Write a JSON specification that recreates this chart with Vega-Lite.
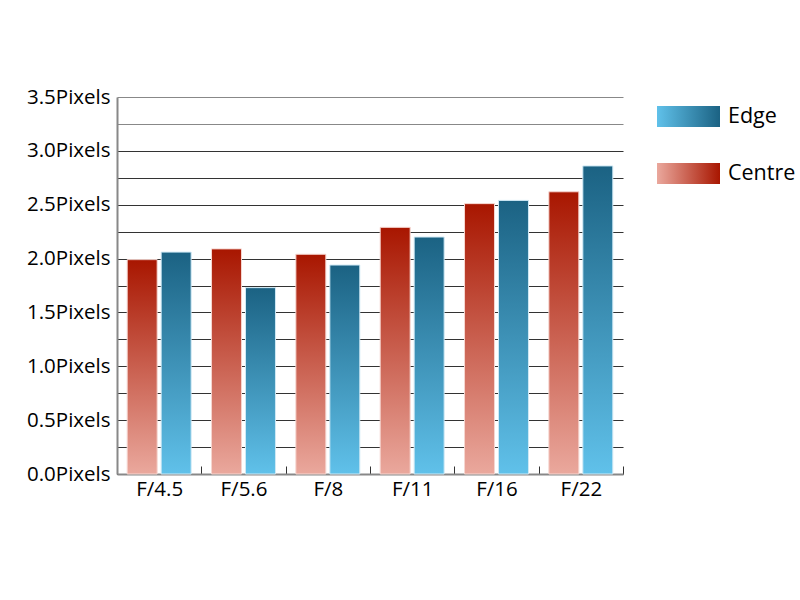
{
  "$schema": "https://vega.github.io/schema/vega-lite/v6.json",
  "autosize": "none",
  "width": 506,
  "height": 377,
  "padding": {"left": 117, "top": 97, "right": 177, "bottom": 126},
  "background": "white",
  "config": {"font": "Open Sans", "view": {"stroke": null}},
  "data": {
    "values": [
      {"aperture": "F/4.5", "series": "Centre", "value": 1.99},
      {"aperture": "F/4.5", "series": "Edge", "value": 2.06},
      {"aperture": "F/5.6", "series": "Centre", "value": 2.09},
      {"aperture": "F/5.6", "series": "Edge", "value": 1.73},
      {"aperture": "F/8", "series": "Centre", "value": 2.04},
      {"aperture": "F/8", "series": "Edge", "value": 1.94},
      {"aperture": "F/11", "series": "Centre", "value": 2.29},
      {"aperture": "F/11", "series": "Edge", "value": 2.2},
      {"aperture": "F/16", "series": "Centre", "value": 2.51},
      {"aperture": "F/16", "series": "Edge", "value": 2.54},
      {"aperture": "F/22", "series": "Centre", "value": 2.62},
      {"aperture": "F/22", "series": "Edge", "value": 2.86}
    ]
  },
  "mark": {"type": "bar", "strokeWidth": 1},
  "encoding": {
    "x": {
      "field": "aperture",
      "type": "nominal",
      "sort": ["F/4.5", "F/5.6", "F/8", "F/11", "F/16", "F/22"],
      "scale": {"paddingInner": 0, "paddingOuter": 0},
      "axis": {
        "title": null,
        "labelAngle": 0,
        "tickBand": "extent",
        "tickSize": -8,
        "tickColor": "#333",
        "tickWidth": 1,
        "labelPadding": 13,
        "labelFontSize": 20.5,
        "labelColor": "#000",
        "domainColor": "#888",
        "domainWidth": 2,
        "grid": false
      }
    },
    "xOffset": {
      "field": "series",
      "type": "nominal",
      "sort": ["Centre", "Edge"],
      "scale": {"paddingInner": 0.118, "paddingOuter": 0.3}
    },
    "y": {
      "field": "value",
      "type": "quantitative",
      "scale": {"domain": [0, 3.5], "nice": false},
      "axis": {
        "title": null,
        "values": [0, 0.25, 0.5, 0.75, 1, 1.25, 1.5, 1.75, 2, 2.25, 2.5, 2.75, 3, 3.25, 3.5],
        "labelExpr": "(datum.value * 2) % 1 === 0 ? format(datum.value, '.1f') + 'Pixels' : ''",
        "labelOverlap": false,
        "labelFlush": false,
        "tickSize": 0,
        "labelPadding": 7,
        "labelFontSize": 20.5,
        "labelColor": "#000",
        "domainColor": "#888",
        "domainWidth": 2,
        "grid": true,
        "gridWidth": 1,
        "gridOpacity": 1,
        "gridColor": {"condition": {"test": "datum.value >= 3.2", "value": "#888"}, "value": "#333"}
      }
    },
    "fill": {
      "condition": {
        "test": "datum.series === 'Edge'",
        "value": {"gradient": "linear", "x1": 0, "y1": 0, "x2": 0, "y2": 1, "stops": [{"offset": 0, "color": "#1b6283"}, {"offset": 1, "color": "#60c1ea"}]}
      },
      "value": {"gradient": "linear", "x1": 0, "y1": 0, "x2": 0, "y2": 1, "stops": [{"offset": 0, "color": "#a81600"}, {"offset": 1, "color": "#eaa89d"}]}
    },
    "stroke": {
      "condition": {"test": "datum.series === 'Edge'", "value": "#cfe9f5"},
      "value": "#f6d6d0"
    },
    "opacity": {
      "field": "series",
      "type": "nominal",
      "scale": {"domain": ["Edge", "Centre"], "range": [1, 1]},
      "legend": {
        "title": null,
        "orient": "none",
        "legendX": 540,
        "legendY": -12,
        "symbolType": "M-1,-0.333H1V0.333H-1Z",
        "symbolSize": 3969,
        "symbolStrokeWidth": 0,
        "labelFontSize": 21.5,
        "labelColor": "#000",
        "labelOffset": 8,
        "rowPadding": 15,
        "encoding": {
          "symbols": {
            "opacity": {"value": 1},
            "fill": {
              "condition": {
                "test": "datum.value === 'Edge'",
                "value": {"gradient": "linear", "x1": 0, "y1": 0, "x2": 1, "y2": 0, "stops": [{"offset": 0, "color": "#60c1ea"}, {"offset": 1, "color": "#1b6283"}]}
              },
              "value": {"gradient": "linear", "x1": 0, "y1": 0, "x2": 1, "y2": 0, "stops": [{"offset": 0, "color": "#eaa89d"}, {"offset": 1, "color": "#a81600"}]}
            }
          }
        }
      }
    }
  }
}
